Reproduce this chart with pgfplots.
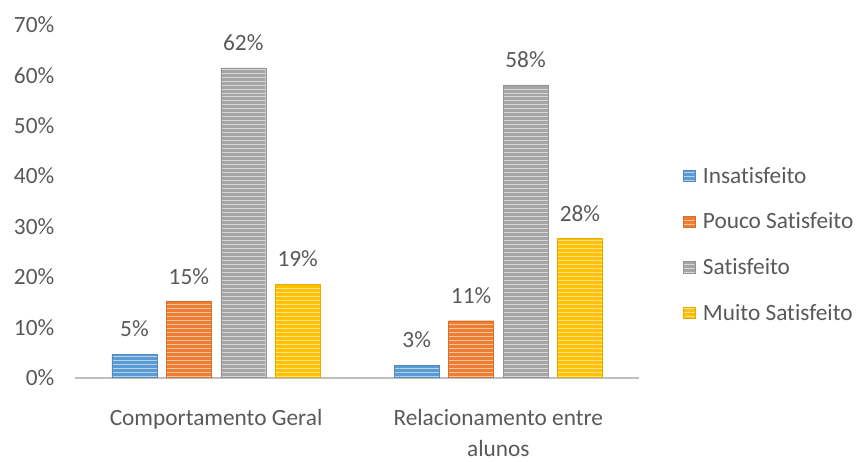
\documentclass[border=0pt]{standalone}
\usepackage{pgfplots}
\pgfplotsset{compat=1.18}
\usepackage{fontspec}
\setmainfont{Carlito}[Ligatures=NoCommon]
\usetikzlibrary{patterns}

\definecolor{cBlue}{HTML}{5B9BD5}
\definecolor{cOrange}{HTML}{ED7D31}
\definecolor{cGray}{HTML}{A5A5A5}
\definecolor{cYellow}{HTML}{FFC000}
\definecolor{txt}{HTML}{595959}
\definecolor{axln}{HTML}{BFBFBF}

\tikzset{
  stripes/.style={fill=#1, draw=#1!90!black, line width=0.3pt,
    postaction={pattern=horizontal lines, pattern color=white!55!#1}},
}

\begin{document}
\begin{tikzpicture}
\begin{axis}[
  scale only axis,
  width=423.75pt, height=264.75pt,
  ybar=7.1pt, bar width=33.75pt,
  xmin=-0.5, xmax=1.5, ymin=0, ymax=70,
  xtick={0,1},
  xticklabels={Comportamento Geral, {Relacionamento entre\\alunos}},
  xticklabel style={align=center, text=txt, font=\fontsize{17.5}{23.5}\selectfont, yshift=-20pt},
  ytick={0,10,...,70},
  yticklabel={\pgfmathprintnumber{\tick}\%},
  yticklabel style={text=txt, font=\fontsize{17.5}{20}\selectfont, xshift=-12pt},
  /pgf/number format/assume math mode=true,
  major tick length=0pt,
  axis x line*=bottom,
  axis y line*=left,
  y axis line style={draw=none},
  x axis line style={draw=axln, line width=1.5pt, -},
  nodes near coords,
  point meta=explicit symbolic,
  every node near coord/.append style={text=txt, font=\fontsize{17.5}{20}\selectfont, yshift=9.5pt},
  legend style={at={(1.07,0.613)}, anchor=north west, draw=none, fill=none,
    font=\fontsize{17.5}{20}\selectfont, text=txt, row sep=16.75pt,
    /tikz/every odd column/.append style={column sep=4pt},
    /tikz/every even column/.append style={column sep=2pt}},
  legend cell align=left,
  legend image code/.code={\path[#1] (0pt,-4pt) rectangle (8.5pt,4.5pt);},
]
\addplot[stripes=cBlue] coordinates {(0,4.6) [5\%] (1,2.5) [3\%]};
\addplot[stripes=cOrange] coordinates {(0,15.1) [15\%] (1,11.3) [11\%]};
\addplot[stripes=cGray] coordinates {(0,61.5) [62\%] (1,58.1) [58\%]};
\addplot[stripes=cYellow] coordinates {(0,18.5) [19\%] (1,27.6) [28\%]};
\legend{Insatisfeito, Pouco Satisfeito, Satisfeito, Muito Satisfeito}
\end{axis}
\path (-56.25pt,-60pt) rectangle (588.75pt,283.5pt);
\end{tikzpicture}
\end{document}
